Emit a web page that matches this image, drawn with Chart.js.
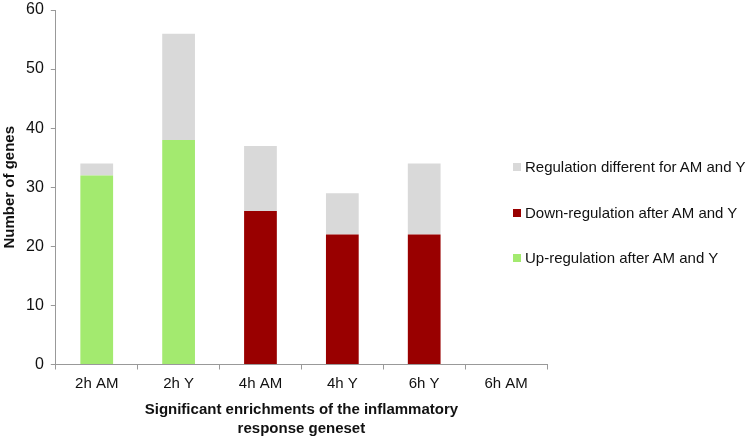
<!DOCTYPE html>
<html>
<head>
<meta charset="utf-8">
<script src="https://cdn.jsdelivr.net/npm/chart.js@4.4.1/dist/chart.umd.min.js"></script>
<style>
body { margin: 0; background: #fff; }
#wrap { position: relative; width: 750px; height: 438px; }
#legend { position: absolute; left: 513px; top: 158px; font-family: "Liberation Sans", Arial, sans-serif; font-size: 15px; color: #111; }
#legend .item { height: 45.5px; display: flex; align-items: flex-start; white-space: nowrap; }
#legend .box { width: 8px; height: 8px; margin: 5px 4px 0 0; }
</style>
</head>
<body>
<div id="wrap">
<canvas id="myChart" width="750" height="438"></canvas>
<div id="legend"></div>
</div>
<script>
var categories = ['2h AM', '2h Y', '4h AM', '4h Y', '6h Y', '6h AM'];
var upValues = [32, 38, 0, 0, 0, 0];
var downValues = [0, 0, 26, 22, 22, 0];
var diffValues = [2, 18, 11, 7, 12, 0];
var yTicks = [0, 10, 20, 30, 40, 50, 60];

var font = 'Liberation Sans';

var ctx = document.getElementById('myChart');
var myChart = new Chart(ctx, {
	type: 'bar',
	data: {
		labels: categories,
		datasets: [{
			label: 'Up-regulation after AM and Y',
			data: upValues,
			backgroundColor: '#a3ea6f'
		}, {
			label: 'Down-regulation after AM and Y',
			data: downValues,
			backgroundColor: '#990000'
		}, {
			label: 'Regulation different for AM and Y',
			data: diffValues,
			backgroundColor: '#d9d9d9'
		}]
	},
	options: {
		responsive: false,
		animation: false,
		devicePixelRatio: 1,
		layout: {
			padding: { top: 10, right: 203, left: 0, bottom: 0 }
		},
		plugins: {
			legend: { display: false },
			tooltip: { enabled: false }
		},
		datasets: {
			bar: {
				categoryPercentage: 0.8,
				barPercentage: 0.5,
				borderWidth: 0
			}
		},
		scales: {
			x: {
				stacked: true,
				grid: {
					display: true,
					drawOnChartArea: false,
					tickLength: 5,
					color: '#999'
				},
				border: { color: '#999' },
				ticks: {
					color: '#111',
					font: { family: font, size: 15 },
					padding: 5,
					maxRotation: 0
				},
				title: {
					display: true,
					text: ['Significant enrichments of the inflammatory', 'response geneset'],
					color: '#111',
					font: { family: font, size: 15, weight: 'bold', lineHeight: 1.25 },
					padding: { top: 3, bottom: 0 }
				}
			},
			y: {
				stacked: true,
				min: 0,
				max: 60,
				afterBuildTicks: function (axis) {
					axis.ticks = yTicks.map(function (v) { return { value: v }; });
				},
				afterFit: function (axis) {
					axis.paddingTop = 0;
				},
				grid: {
					display: true,
					drawOnChartArea: false,
					tickLength: 5,
					color: '#999'
				},
				border: { color: '#999' },
				ticks: {
					color: '#111',
					font: { family: font, size: 16 },
					padding: 7
				},
				title: {
					display: true,
					text: 'Number of genes',
					color: '#111',
					font: { family: font, size: 15, weight: 'bold' },
					padding: { top: 1, bottom: 0 }
				}
			}
		}
	}
});

// legend drawn beside the plot, in reverse dataset order, overlapping the empty last column
var legendEl = document.getElementById('legend');
myChart.data.datasets.slice().reverse().forEach(function (ds) {
	var item = document.createElement('div');
	item.className = 'item';
	var box = document.createElement('span');
	box.className = 'box';
	box.style.background = ds.backgroundColor;
	var txt = document.createElement('span');
	txt.textContent = ds.label;
	item.appendChild(box);
	item.appendChild(txt);
	legendEl.appendChild(item);
});
</script>
</body>
</html>
